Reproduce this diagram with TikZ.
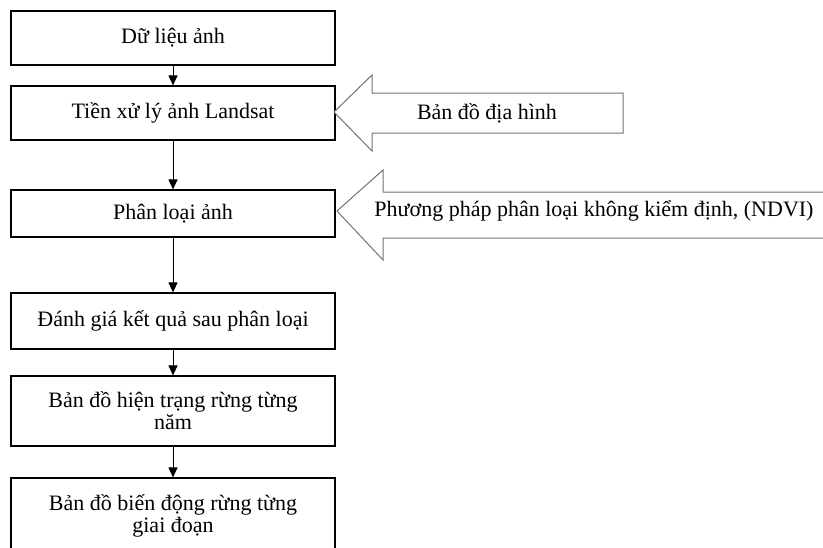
\documentclass[tikz,border=0pt]{standalone}
\usepackage{fontspec}
\setmainfont{Liberation Serif}
\usetikzlibrary{arrows.meta}
\begin{document}
\begin{tikzpicture}[x=1pt,y=-1pt,
  box/.style={draw=black,line width=1.1pt,minimum width=324pt,align=center,inner sep=0pt,font=\fontsize{22}{22}\selectfont},
  conn/.style={line width=1pt,-{Triangle[width=9pt,length=10pt]}},
  bigarrow/.style={draw=black!55,line width=1pt,fill=white},
  lbl/.style={font=\fontsize{22}{22}\selectfont,inner sep=0pt}]
\useasboundingbox (0,0) rectangle (823,547);
\node[box,minimum height=54pt] (b1) at (173,38) {Dữ liệu ảnh};
\node[box,minimum height=54pt] (b2) at (173,113) {Tiền xử lý ảnh Landsat};
\node[box,minimum height=47pt] (b3) at (173,213.5) {Phân loại ảnh};
\node[box,minimum height=56pt] (b4) at (173,321) {Đánh giá kết quả sau phân loại};
\node[box,minimum height=70pt] (b5) at (173,411) {Bản đồ hiện trạng rừng từng\\năm};
\node[box,minimum height=76pt] (b6) at (173,516) {Bản đồ biến động rừng từng\\giai đoạn};
\draw[conn] (b1) -- (b2);
\draw[conn] (b2) -- (b3);
\draw[conn] (b3) -- (b4);
\draw[conn] (b4) -- (b5);
\draw[conn] (b5) -- (b6);
% big arrow 1
\draw[bigarrow] (334,112) -- (372,75) -- (372,93) -- (623,93) -- (623,133) -- (372,133) -- (372,151) -- cycle;
\node[lbl] (t1) at (487,113) {Bản đồ địa hình};
% big arrow 2
\draw[bigarrow] (337,211) -- (383,170) -- (383,192) -- (830,192) -- (830,238) -- (383,238) -- (383,260) -- cycle;
\node[lbl] (t2) at (594,211) {Phương pháp phân loại không kiểm định, (NDVI)};
\end{tikzpicture}
\end{document}
